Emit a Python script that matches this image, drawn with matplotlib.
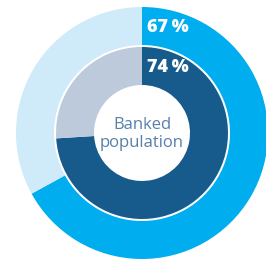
import matplotlib
matplotlib.use('Agg')
import matplotlib.pyplot as plt

# data
outer_vals = [67, 33]
inner_vals = [74, 26]
outer_label = "67\u2009%"
inner_label = "74\u2009%"
center_text = "Banked\npopulation"

outer_colors = ['#00adef', '#cfeaf8']
inner_colors = ['#165b8c', '#bccadb']

W, H = 266, 262
fig = plt.figure(figsize=(W / 100, H / 100), dpi=100)
ax = fig.add_axes([0, 0, 1, 1])

cx, cy = 142, H - 133
r_out, r_mid_o = 126, 88
r_in, r_hole = 86, 48

ax.pie(outer_vals, colors=outer_colors, startangle=90, counterclock=False,
       radius=r_out, center=(cx, cy),
       wedgeprops=dict(width=r_out - r_mid_o, edgecolor='none'))
ax.pie(inner_vals, colors=inner_colors, startangle=90, counterclock=False,
       radius=r_in, center=(cx, cy),
       wedgeprops=dict(width=r_in - r_hole, edgecolor='none'))

fam = ['Open Sans', 'DejaVu Sans']
ax.text(cx + 5, cy + (r_out + r_mid_o) / 2 - 1, outer_label, color='white',
        fontsize=13, fontweight='heavy', family=fam, ha='left', va='center')
ax.text(cx + 5, cy + (r_in + r_hole) / 2 - 1, inner_label, color='white',
        fontsize=13, fontweight='heavy', family=fam, ha='left', va='center')
ax.text(cx, cy - 1, center_text, color='#5580a8', fontsize=12, family=fam,
        ha='center', va='center', linespacing=1.2)

ax.set_xlim(0, W)
ax.set_ylim(0, H)
ax.set_aspect('equal')
ax.axis('off')

fig.savefig('out.png', dpi=100, facecolor='white')
